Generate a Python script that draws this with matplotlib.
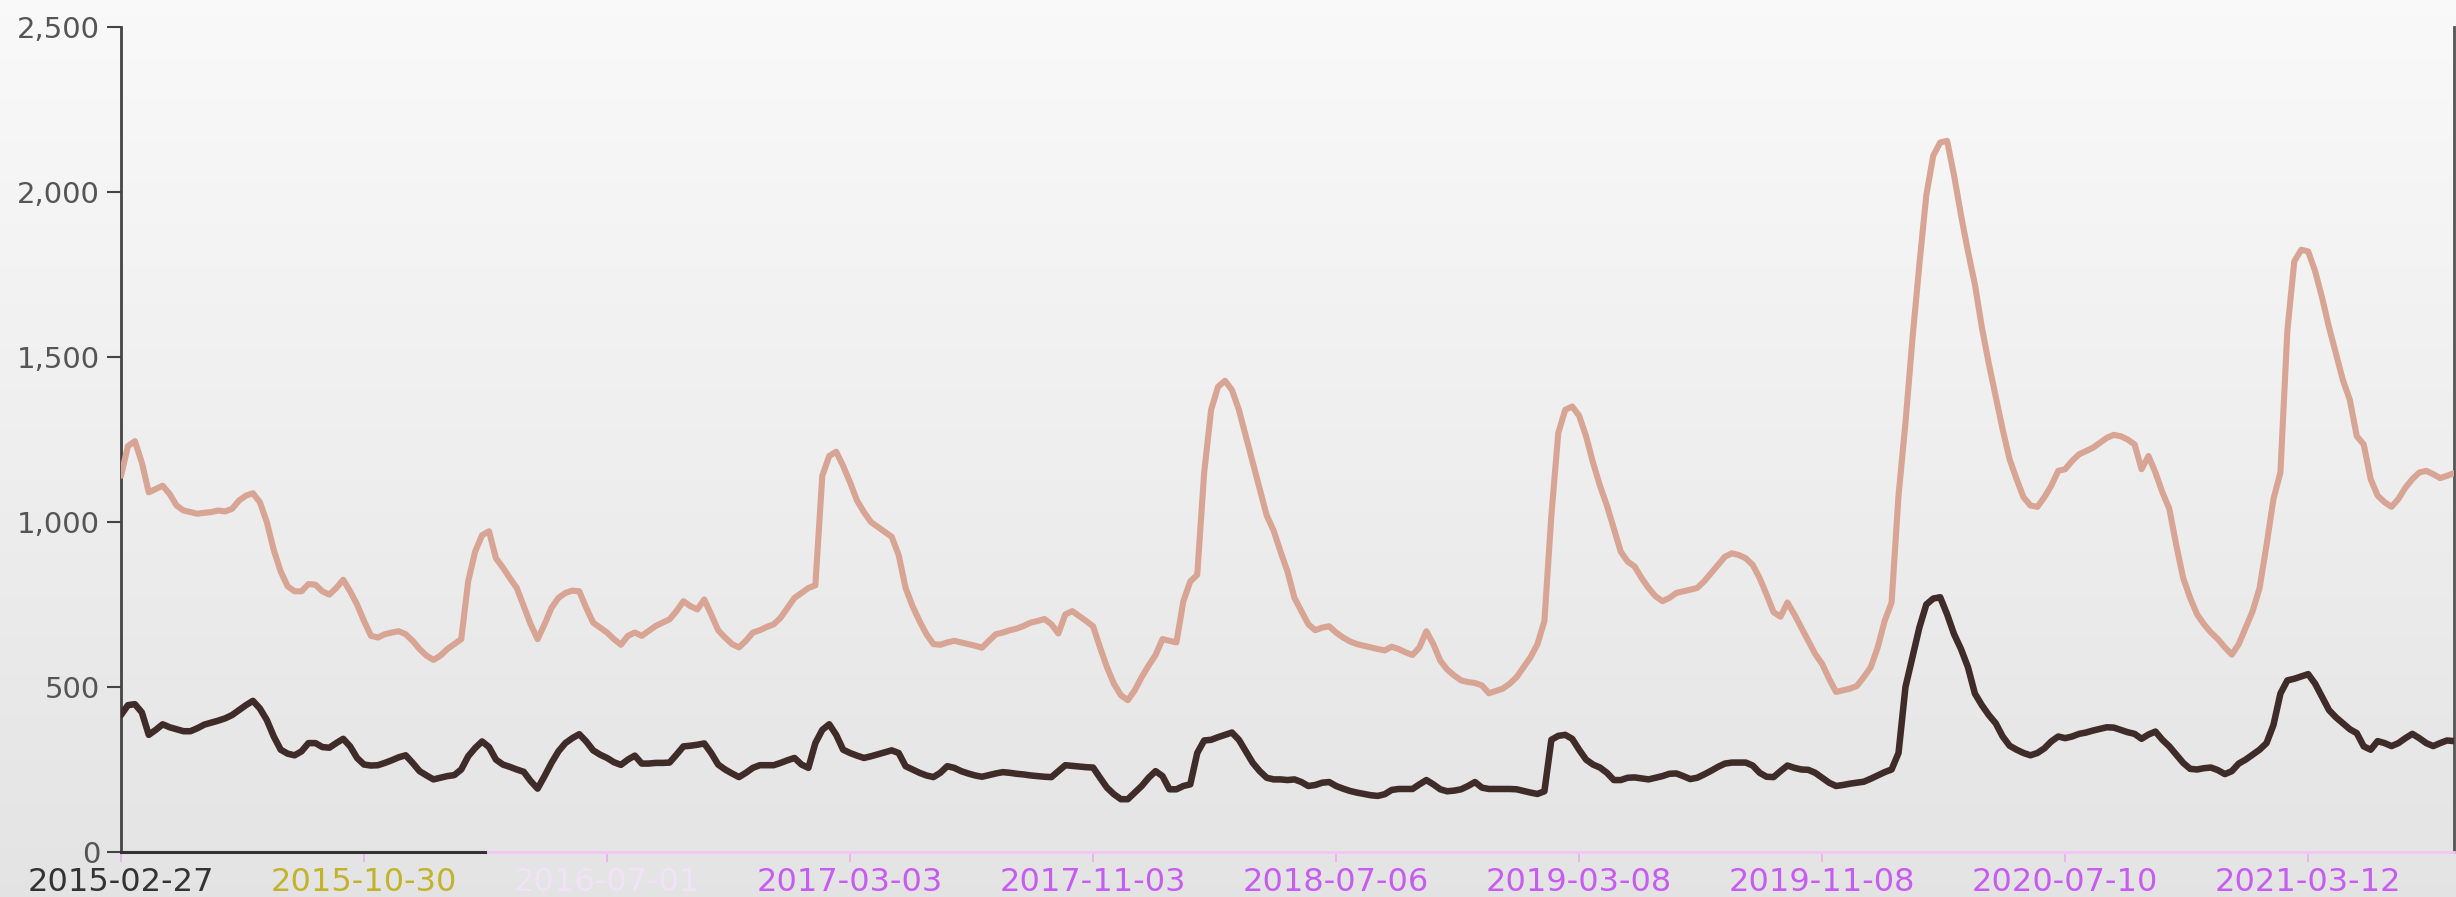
import numpy as np
import pandas as pd
import matplotlib
matplotlib.use('Agg')
import matplotlib.pyplot as plt
from matplotlib import font_manager
from matplotlib.ticker import FuncFormatter

# weekly series, starting 2015-02-27
upper = [
    1140, 1230, 1245, 1180, 1090, 1100, 1110, 1085, 1050, 1035,
    1030, 1025, 1028, 1030, 1035, 1032, 1040, 1065, 1080, 1087,
    1060, 1000, 915, 850, 805, 790, 790, 812, 810, 790,
    780, 800, 825, 790, 750, 700, 655, 650, 660, 665,
    669, 660, 640, 615, 595, 582, 595, 615, 630, 645,
    820, 910, 960, 972, 890, 862, 830, 800, 745, 690,
    645, 690, 740, 770, 785, 792, 790, 740, 695, 680,
    665, 645, 628, 655, 665, 655, 670, 685, 695, 705,
    730, 760, 745, 735, 765, 720, 672, 650, 630, 620,
    640, 665, 672, 682, 690, 710, 740, 770, 785, 800,
    808, 1140, 1200, 1213, 1170, 1120, 1065, 1030, 1000, 985,
    970, 955, 900, 800, 745, 700, 660, 630, 628, 635,
    640, 635, 630, 625, 619, 640, 660, 665, 672, 677,
    685, 695, 700, 706, 690, 662, 720, 730, 715, 700,
    684, 620, 560, 510, 475, 460, 490, 530, 565, 597,
    645, 640, 635, 760, 820, 840, 1150, 1340, 1410, 1428,
    1400, 1340, 1260, 1180, 1100, 1020, 974, 910, 850, 770,
    730, 690, 672, 680, 684, 665, 650, 638, 630, 625,
    620, 615, 611, 622, 615, 605, 597, 620, 669, 630,
    580, 553, 535, 520, 515, 512, 505, 481, 488, 495,
    510, 530, 560, 590, 630, 700, 1020, 1270, 1340, 1350,
    1322, 1260, 1180, 1110, 1050, 980, 910, 880, 865, 830,
    800, 775, 760, 770, 785, 790, 795, 800, 820, 845,
    870, 895, 905, 900, 890, 870, 830, 780, 727, 713,
    756, 720, 680, 640, 600, 570, 525, 485, 490, 495,
    503, 530, 560, 620, 700, 756, 1080, 1300, 1554, 1780,
    1990, 2110, 2150, 2155, 2050, 1930, 1820, 1720, 1590, 1480,
    1380, 1280, 1190, 1130, 1075, 1050, 1046, 1075, 1110, 1155,
    1160, 1185, 1205, 1215, 1225, 1240, 1255, 1264, 1260, 1250,
    1235, 1160, 1200, 1150, 1090, 1040, 930, 830, 770, 720,
    690, 665, 645, 620, 598, 630, 680, 730, 800, 930,
    1070, 1150, 1580, 1790, 1825, 1820, 1760, 1680, 1590, 1510,
    1430, 1370, 1260, 1235, 1130, 1080, 1060, 1046, 1070, 1104,
    1130, 1150, 1155, 1145, 1133, 1140, 1148,
]

lower = [
    415, 445, 448, 423, 355, 370, 387, 378, 372, 366,
    366, 375, 386, 392, 398, 405, 415, 430, 445, 458,
    435, 400, 350, 310, 298, 293, 305, 330, 330, 318,
    316, 330, 343, 320, 285, 265, 262, 263, 270, 278,
    287, 293, 270, 245, 232, 220, 225, 230, 233, 250,
    290, 315, 335, 318, 280, 265, 258, 250, 243, 215,
    192, 230, 270, 305, 330, 345, 357, 335, 308, 295,
    285, 272, 264, 280, 292, 268, 268, 270, 270, 271,
    295, 320, 322, 325, 329, 300, 265, 250, 238, 227,
    240, 255, 263, 263, 263, 270, 278, 285, 265, 255,
    330, 370, 387, 355, 310, 300, 292, 285, 290, 296,
    302, 308, 300, 260, 250, 240, 232, 227, 240, 260,
    255, 245, 238, 232, 228, 233, 238, 242, 240, 237,
    235, 232, 230, 228, 227, 245, 263, 261, 259, 257,
    256, 225, 195, 175, 160, 160, 180, 200, 225, 245,
    230, 190, 190, 200, 205, 300, 338, 340, 348, 355,
    362, 340, 305, 270, 245, 225, 220, 220, 218, 220,
    212, 200, 203, 210, 212, 200, 192, 185, 180, 176,
    172, 170, 175, 188, 191, 191, 191, 205, 218, 205,
    190, 184, 186, 190, 200, 212, 195, 191, 191, 191,
    191, 190, 185, 180, 176, 184, 340, 352, 355, 343,
    310, 280, 265, 256, 240, 218, 218, 225, 226, 223,
    220, 225, 230, 237, 238, 230, 221, 225, 235, 246,
    258, 268, 271, 271, 271, 262, 240, 228, 227, 245,
    262, 255, 250, 249, 240, 225, 210, 200, 203, 207,
    210, 213, 222, 232, 242, 250, 300, 500, 590, 680,
    750, 768, 772, 720, 660, 615, 560, 480, 445, 415,
    390, 350, 322, 310, 300, 293, 300, 314, 335, 350,
    345, 350, 358, 362, 368, 373, 378, 377, 370, 363,
    358, 343, 356, 365, 340, 320, 295, 270, 252, 250,
    254, 256, 248, 236, 245, 268, 280, 295, 310, 330,
    385, 480, 520, 525, 532, 539, 510, 470, 430, 408,
    390, 372, 360, 320, 310, 336, 330, 321, 330, 345,
    358, 345, 330, 321, 330, 338, 336,
]

n = min(len(upper), len(lower))
upper = upper[:n]
lower = lower[:n]
dates = pd.date_range('2015-02-27', periods=n, freq='7D')
x = np.arange(n)

tick_step = 35
tick_idx = x[::tick_step]
tick_labels = [d.strftime('%Y-%m-%d') for d in dates[::tick_step]]
label_colors = ['#333333', '#c4b22a', '#f2e2f8', '#c65cf0', '#c65cf0',
                '#c65cf0', '#c65cf0', '#c65cf0', '#c65cf0', '#c65cf0']

installed = {f.name for f in font_manager.fontManager.ttflist}
if 'Liberation Sans Narrow' in installed:
    xfont, xsize = 'Liberation Sans Narrow', 30
else:
    xfont, xsize = 'DejaVu Sans', 23

W, H, DPI = 2456, 897, 100
fig = plt.figure(figsize=(W / DPI, H / DPI), dpi=DPI)

# background gradient
bg = fig.add_axes([0, 0, 1, 1], zorder=0)
grad = np.linspace(0.978, 0.893, 256).reshape(-1, 1)
bg.imshow(np.dstack([grad, grad, grad]), aspect='auto', extent=[0, 1, 0, 1])
bg.axis('off')

ax = fig.add_axes([121 / W, 45 / H, 2333 / W, 825 / H], zorder=1)
ax.patch.set_alpha(0)

ax.plot(x, upper, color='#d8a493', lw=4.4, solid_joinstyle='round',
        solid_capstyle='round', zorder=3)
ax.plot(x, lower, color='#3f2c28', lw=4.7, solid_joinstyle='round',
        solid_capstyle='round', zorder=4)

ax.set_xlim(0, n - 1)
ax.set_ylim(0, 2500)
ax.set_yticks(np.arange(0, 2501, 500))
ax.yaxis.set_major_formatter(FuncFormatter(lambda v, p: f'{int(v):,}'))
ax.tick_params(axis='y', direction='out', length=10, width=1.5, color='#444444',
               labelsize=21, labelcolor='#555555', pad=5)

ax.set_xticks(tick_idx)
ax.set_xticklabels(tick_labels, fontfamily=xfont)
ax.tick_params(axis='x', direction='out', length=7, width=1.2, color='#eeaaf2',
               labelsize=xsize, pad=4)
for lbl, c in zip(ax.get_xticklabels(), label_colors):
    lbl.set_color(c)

ax.spines['top'].set_visible(False)
ax.spines['left'].set_color('#444444')
ax.spines['left'].set_linewidth(2)
ax.spines['right'].set_color('#555555')
ax.spines['right'].set_linewidth(2)
ax.spines['bottom'].set_color('#f4c4f4')
ax.spines['bottom'].set_linewidth(2)
ax.axhline(0, xmin=0, xmax=0.156, color='#333333', lw=2.2, zorder=5, clip_on=False)

fig.savefig('out.png', dpi=DPI)
